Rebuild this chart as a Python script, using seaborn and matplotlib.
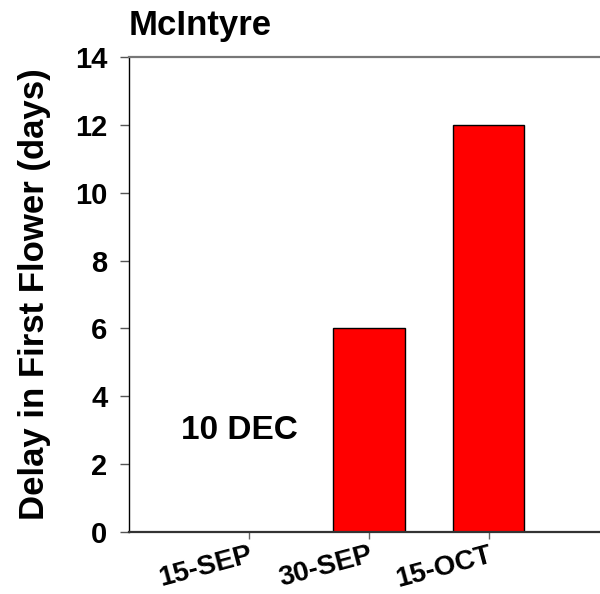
import matplotlib
matplotlib.use("Agg")
import matplotlib.pyplot as plt
import seaborn as sns

# data
dates = ["15-SEP", "30-SEP", "15-OCT"]
delay = [0, 6, 12]
yticks = [0, 2, 4, 6, 8, 10, 12, 14]

sns.set_style("ticks")
plt.rcParams["font.family"] = ["Liberation Sans", "DejaVu Sans"]
plt.rcParams["font.weight"] = "bold"
plt.rcParams["text.color"] = "black"
plt.rcParams["axes.labelcolor"] = "black"
plt.rcParams["xtick.labelcolor"] = "black"
plt.rcParams["ytick.labelcolor"] = "black"

fig = plt.figure(figsize=(6, 5.94), dpi=100)
ax = fig.add_axes([0.215, 0.1044, 0.785, 0.7996])

sns.barplot(x=dates, y=delay, color="#ff0000", saturation=1, edgecolor="black",
            linewidth=1.0, width=0.6, ax=ax)

ax.set_xlim(-1, 2.93)
ax.set_ylim(0, 14)
ax.set_yticks(yticks)

for s in ["left", "bottom", "top"]:
    ax.spines[s].set_visible(True)
ax.spines["right"].set_visible(False)
ax.spines["left"].set_color("black")
ax.spines["left"].set_linewidth(1.0)
ax.spines["bottom"].set_color("#333333")
ax.spines["bottom"].set_linewidth(1.6)
ax.spines["top"].set_color("#777777")
ax.spines["top"].set_linewidth(1.6)

ax.tick_params(axis="y", direction="out", length=6.5, width=1.0, color="#555555",
               pad=9, labelsize=21)
ax.tick_params(axis="x", direction="out", length=5, width=1.0, color="#666666",
               pad=2, labelsize=20)
for lab in ax.get_yticklabels():
    lab.set_fontweight("bold")
for lab in ax.get_xticklabels():
    lab.set_fontweight("bold")
    lab.set_rotation(15)
    lab.set_ha("right")
    lab.set_va("top")
    lab.set_rotation_mode("anchor")

ax.set_xlabel("")
ax.set_ylabel("Delay in First Flower (days)", fontsize=25, fontweight="bold", labelpad=17)
ax.set_title("McIntyre", loc="left", fontsize=25, fontweight="bold", pad=16)

ax.text(-0.075, 3.0, "10 DEC", fontsize=24, fontweight="bold", ha="center", va="center")

fig.savefig("out.png", dpi=100)
